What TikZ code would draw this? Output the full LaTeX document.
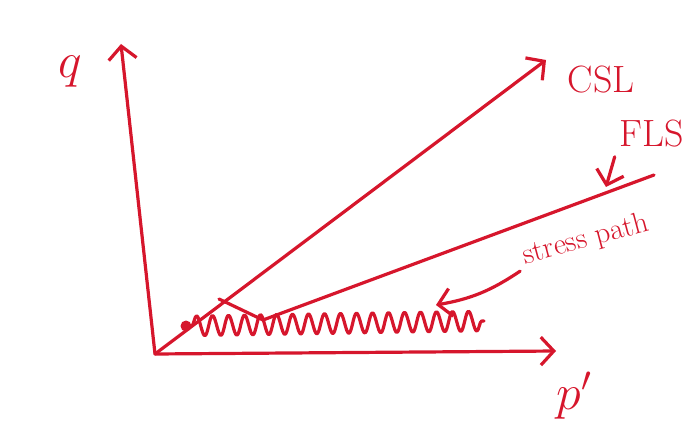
\documentclass[tikz,border=0pt]{standalone}
\usepackage{fix-cm}
\usetikzlibrary{arrows.meta,decorations.pathmorphing}
\definecolor{penred}{RGB}{214,22,44}
\tikzset{
  pen/.style={penred, line width=3.2pt, line cap=round, line join=round},
  lbl/.style={text=penred, font=\fontsize{38}{40}\selectfont, inner sep=1pt}
}
\begin{document}
\begin{tikzpicture}[x=1pt, y=-1pt, >={Straight Barb[length=13pt,width=28pt]}]
    \useasboundingbox (0,0) rectangle (694,441);

    % axes
    \coordinate (O) at (155,354);
    \coordinate (qtip) at (121,44);
    \coordinate (ptip) at (556,351);
    \draw[pen,->] (O) -- (qtip);
    \draw[pen,->] (O) -- (ptip);
    \node[lbl, font=\fontsize{50}{52}\selectfont] (qlab) at (70,72) {$q$};
    \node[lbl, font=\fontsize{50}{52}\selectfont] (plab) at (574,396) {$p'$};

    % critical state line
    \coordinate (csltip) at (546,60);
    \draw[pen,->] (O) -- (csltip);
    \node[lbl] (csl) at (601,80) {CSL};

    % failure line
    \coordinate (kink) at (219,299);
    \coordinate (vert) at (263,320);
    \coordinate (flsend) at (654,175);
    \draw[pen] (kink) -- (vert) -- (flsend);
    \node[lbl] (fls) at (652,134) {FLS};
    \coordinate (flsmark) at (606,187);
    \draw[pen,->] (fls.south west) ++(-4,8) -- (flsmark);

    % stress path
    \node[circle, fill=penred, inner sep=0pt, minimum size=11pt] (start) at (186,326) {};
    \coordinate (pathend) at (484,321);
    \draw[pen, decorate, decoration={snake, amplitude=10pt, segment length=16pt}]
        (start) -- (pathend);
    \node[lbl, rotate=15, font=\fontsize{30}{32}\selectfont] (sp) at (586,240) {stress path};
    \coordinate (spmark) at (436,305);
    \draw[pen,->] (sp.west) ++(-2,14) to[bend left=12] (spmark);
\end{tikzpicture}
\end{document}
